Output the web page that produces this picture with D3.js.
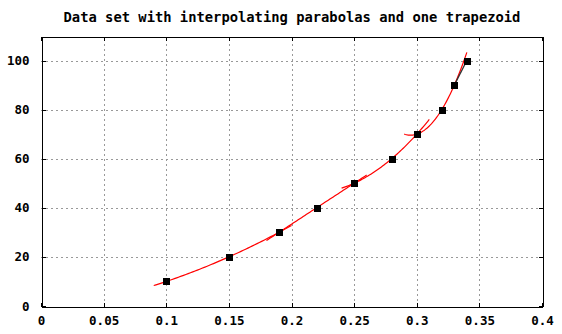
<!DOCTYPE html>
<html>
<head>
<meta charset="utf-8">
<script src="https://cdn.jsdelivr.net/npm/d3@7"></script>
<style>
  html, body { margin: 0; padding: 0; background: #fff; }
  svg { display: block; }
  text { font-family: "DejaVu Sans Mono", "Liberation Mono", monospace; font-weight: bold; fill: #000; }
</style>
</head>
<body>
<svg id="chart" width="562" height="334"></svg>
<script>
// Sample points
const xs = [0.10, 0.15, 0.19, 0.22, 0.25, 0.28, 0.30, 0.32, 0.33, 0.34];
const ys = [10, 20, 30, 40, 50, 60, 70, 80, 90, 100];

// Point triples fitted by a parabola (indices into xs/ys), and the trapezoid pair
const parabolaGroups = [[0, 1, 2], [2, 3, 4], [4, 5, 6], [6, 7, 8]];
const trapezoidPair = [8, 9];
// Each parabola is drawn a little past its outer nodes
const overhang = 0.01;

const xTicks = [0, 0.05, 0.1, 0.15, 0.2, 0.25, 0.3, 0.35, 0.4];
const yTicks = [0, 20, 40, 60, 80, 100];
const titleText = "Data set with interpolating parabolas and one trapezoid";

const W = 562, H = 334;
const margin = { left: 41, right: 20, top: 36, bottom: 28 };

const svg = d3.select("#chart");
const x = d3.scaleLinear().domain([0, 0.4]).range([margin.left, W - margin.right]);
const y = d3.scaleLinear().domain([0, 110]).range([H - margin.bottom, margin.top]);

// Grid
const grid = svg.append("g").attr("stroke", "#999").attr("stroke-width", 1)
  .attr("stroke-dasharray", "2,3").attr("shape-rendering", "crispEdges");
xTicks.slice(1, -1).forEach(t => {
  grid.append("line").attr("x1", Math.round(x(t)) + 0.5).attr("x2", Math.round(x(t)) + 0.5)
    .attr("y1", y(0)).attr("y2", y(110));
});
yTicks.slice(1).forEach(t => {
  grid.append("line").attr("y1", Math.round(y(t)) + 0.5).attr("y2", Math.round(y(t)) + 0.5)
    .attr("x1", x(0)).attr("x2", x(0.4));
});

// Axes with inward ticks, mirrored on top and right
const tickLen = 4;
const fmtX = d => d === 0 ? "0" : d3.format("")(d);
const axB = svg.append("g").attr("transform", `translate(0,${Math.round(y(0)) + 0.5})`)
  .call(d3.axisBottom(x).tickValues(xTicks).tickSizeInner(-tickLen).tickSizeOuter(0).tickPadding(10).tickFormat(fmtX));
const axT = svg.append("g").attr("transform", `translate(0,${Math.round(y(110)) + 0.5})`)
  .call(d3.axisTop(x).tickValues(xTicks).tickSizeInner(-tickLen).tickSizeOuter(0).tickFormat(""));
const axL = svg.append("g").attr("transform", `translate(${Math.round(x(0)) + 0.5},0)`)
  .call(d3.axisLeft(y).tickValues(yTicks).tickSizeInner(-tickLen).tickSizeOuter(0).tickPadding(12));
const axR = svg.append("g").attr("transform", `translate(${Math.round(x(0.4)) + 0.5},0)`)
  .call(d3.axisRight(y).tickValues(yTicks).tickSizeInner(-tickLen).tickSizeOuter(0).tickFormat(""));
[axB, axT, axL, axR].forEach(a => {
  a.select(".domain").attr("stroke", "#000").attr("shape-rendering", "crispEdges");
  a.selectAll(".tick line").attr("stroke", "#000").attr("shape-rendering", "crispEdges");
  a.selectAll("text").attr("font-size", 12.5).attr("font-family", null).attr("font-weight", null);
});

// Interpolating parabolas (Newton form through three nodes)
const line = d3.line().x(d => x(d[0])).y(d => y(d[1]));
parabolaGroups.forEach(g => {
  const [i0, i1, i2] = g;
  const x0 = xs[i0], x1 = xs[i1], x2 = xs[i2];
  const d1 = (ys[i1] - ys[i0]) / (x1 - x0);
  const d2 = (ys[i2] - ys[i1]) / (x2 - x1);
  const c = (d2 - d1) / (x2 - x0);
  const p = t => ys[i0] + d1 * (t - x0) + c * (t - x0) * (t - x1);
  const a = x0 - overhang, b = x2 + overhang;
  const pts = d3.range(0, 61).map(k => { const t = a + (b - a) * k / 60; return [t, p(t)]; });
  svg.append("path").attr("d", line(pts)).attr("fill", "none")
    .attr("stroke", "#ff0000").attr("stroke-width", 1.2);
});

// Trapezoid top over the last interval
svg.append("path")
  .attr("d", line(trapezoidPair.map(i => [xs[i], ys[i]])))
  .attr("fill", "none").attr("stroke", "#303030").attr("stroke-width", 1.3);

// Data markers
const mk = svg.append("g");
xs.forEach((xv, i) => {
  const cx = Math.round(x(xv)), cy = Math.round(y(ys[i]));
  mk.append("rect").attr("x", cx - 3).attr("y", cy - 3).attr("width", 7).attr("height", 7)
    .attr("fill", "#000").attr("shape-rendering", "crispEdges");
});

// Title
svg.append("text").attr("x", 292).attr("y", 22).attr("text-anchor", "middle")
  .attr("font-size", 13.8).text(titleText);
</script>
</body>
</html>
